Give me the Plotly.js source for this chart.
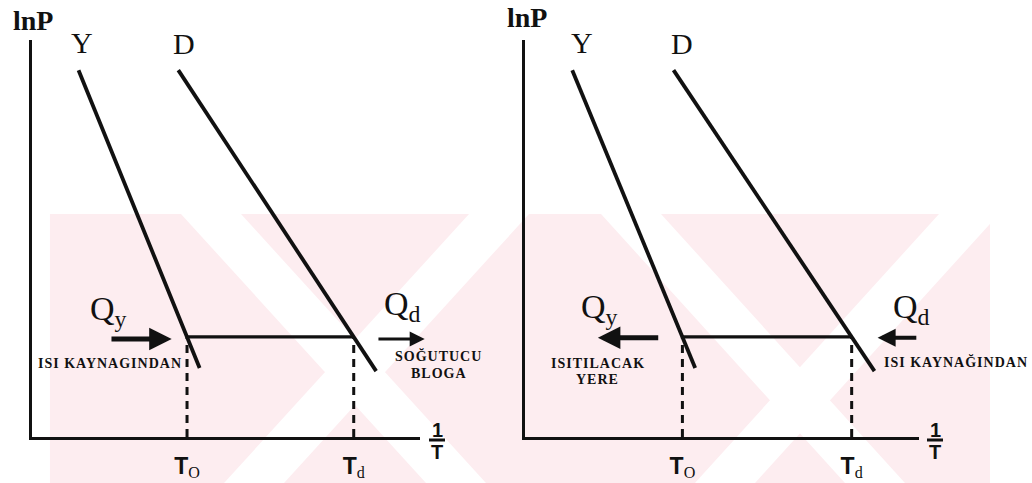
<!DOCTYPE html>
<html>
<head>
<meta charset="utf-8">
<script src="https://cdn.plot.ly/plotly-3.0.1.min.js"></script>
<style>
  html, body { margin: 0; padding: 0; background: #ffffff; }
  #chart { width: 1032px; height: 483px; }
</style>
</head>
<body>
<div id="chart"></div>
<script>
// Vapour-pressure lines of the two fluids in the lnP – 1/T plane (arbitrary units)
const lineY_invT = [1.20, 4.32];
const lineY_lnP  = [9.24, 1.74];
const lineD_invT = [3.77, 8.87];
const lineD_lnP  = [9.24, 1.66];
// common pressure level of the cycle
const processLnP = 2.52;

const curveNames = ['Y', 'D'];
const tickLabels = ['T<sub>O</sub>', 'T<sub>d</sub>'];
const panelTexts = [
  { qLeft: 'Q<sub>y</sub>', qRight: 'Q<sub>d</sub>', left: ['ISI KAYNAGINDAN'], right: ['SOĞUTUCU', 'BLOGA'] },
  { qLeft: 'Q<sub>y</sub>', qRight: 'Q<sub>d</sub>', left: ['ISITILACAK', 'YERE'], right: ['ISI KAYNAĞINDAN'] }
];

// 1/T where a line reaches a given lnP
function invTAt(xs, ys, y) {
  return xs[0] + (ys[0] - y) / (ys[0] - ys[1]) * (xs[1] - xs[0]);
}
const T_O = invTAt(lineY_invT, lineY_lnP, processLnP);
const T_d = invTAt(lineD_invT, lineD_lnP, processLnP);

const W = 1032, H = 483;
const INK = '#111111';
const SERIF = 'Liberation Serif, Times New Roman, serif';
const SANS = 'Liberation Sans, Arial, sans-serif';

function fmtTick(t) {
  return t.replace(/^T<sub>(.*)<\/sub>$/, '<b>T</b><sub><span style="font-family:Liberation Serif;font-weight:normal">$1</span></sub>');
}

function panelTraces(xa, ya) {
  const base = { xaxis: xa, yaxis: ya, mode: 'lines', hoverinfo: 'skip', showlegend: false };
  return [
    Object.assign({}, base, { x: lineY_invT, y: lineY_lnP, line: { color: INK, width: 3.8 } }),
    Object.assign({}, base, { x: lineD_invT, y: lineD_lnP, line: { color: INK, width: 3.8 } }),
    Object.assign({}, base, { x: [T_O, T_d], y: [processLnP, processLnP], line: { color: INK, width: 3.2 } }),
    Object.assign({}, base, { x: [T_O, T_O], y: [0, processLnP], line: { color: INK, width: 3, dash: '8px,6px' } }),
    Object.assign({}, base, { x: [T_d, T_d], y: [0, processLnP], line: { color: INK, width: 3, dash: '8px,6px' } })
  ];
}

const data = [].concat(panelTraces('x', 'y'), panelTraces('x2', 'y2'));

function axisX(domain, anchor) {
  return {
    domain: domain, anchor: anchor, range: [0, 10],
    showline: true, linecolor: INK, linewidth: 3, mirror: false,
    showgrid: false, zeroline: false, ticks: '',
    tickmode: 'array', tickvals: [T_O, T_d], ticktext: tickLabels.map(fmtTick),
    tickfont: { family: SANS, size: 23, color: INK },
    ticklabelstandoff: 6, fixedrange: true
  };
}
function axisY(anchor) {
  return {
    domain: [0.0952, 0.9172], anchor: anchor, range: [0, 10],
    showline: true, linecolor: INK, linewidth: 3,
    showgrid: false, zeroline: false, ticks: '', showticklabels: false, fixedrange: true
  };
}

const annotations = [];
const shapes = [];

function txt(xr, yr, x, y, text, font, extra) {
  annotations.push(Object.assign({
    xref: xr, yref: yr, x: x, y: y, text: text, showarrow: false,
    xanchor: 'center', yanchor: 'middle', font: font
  }, extra || {}));
}
// text placed on the page, in pixels from the top-left corner
function ptxt(px, py, text, font, extra) {
  txt('paper', 'paper', px / W, 1 - py / H, text, font, extra);
}
function arrow(xr, yr, xHead, xTail, y, w, size) {
  annotations.push({
    xref: xr, yref: yr, axref: xr, ayref: yr, x: xHead, y: y, ax: xTail, ay: y,
    text: '', showarrow: true, arrowhead: 2, arrowsize: size, arrowwidth: w, arrowcolor: INK
  });
}
const small = { family: SERIF, size: 14, color: INK };
function spaced(s) { return '<b><span style="letter-spacing:1px">' + s + '</span></b>'; }
const bigSerif = { family: SERIF, size: 30, color: INK };
const qFont = { family: SERIF, size: 34, color: INK };
const lnPFont = { family: SERIF, size: 28, color: INK };

// left panel: refrigeration
ptxt(33, 20, '<b>lnP</b>', lnPFont);
txt('x', 'y', 1.29, 9.94, curveNames[0], bigSerif);
txt('x', 'y', 3.92, 9.92, curveNames[1], bigSerif);
txt('x', 'y', 1.98, 3.18, panelTexts[0].qLeft, qFont);
txt('x', 'y', 9.55, 3.30, panelTexts[0].qRight, qFont);
arrow('x', 'y', 3.60, 2.01, 2.47, 5, 0.9);
arrow('x', 'y', 10.12, 8.89, 2.47, 3, 1.0);
txt('x', 'y', 2.00, 1.86, spaced(panelTexts[0].left[0]), small);
ptxt(438, 356, spaced(panelTexts[0].right[0]), small);
ptxt(439, 373, spaced(panelTexts[0].right[1]), small);

// right panel: heat pump
ptxt(527, 18, '<b>lnP</b>', lnPFont);
txt('x2', 'y2', 1.45, 9.94, curveNames[0], bigSerif);
txt('x2', 'y2', 3.98, 9.92, curveNames[1], bigSerif);
txt('x2', 'y2', 1.90, 3.22, panelTexts[1].qLeft, qFont);
txt('x2', 'y2', 9.80, 3.22, panelTexts[1].qRight, qFont);
arrow('x2', 'y2', 1.85, 3.42, 2.50, 5, 0.9);
arrow('x2', 'y2', 8.95, 9.97, 2.50, 4, 0.9);
txt('x2', 'y2', 1.85, 1.86, spaced(panelTexts[1].left[0]), small);
txt('x2', 'y2', 1.85, 1.44, spaced(panelTexts[1].left[1]), small);
txt('x2', 'y2', 9.06, 1.89, spaced(panelTexts[1].right[0]), small, { xanchor: 'left' });

// "1/T" axis captions
[437, 935].forEach(function (cx) {
  ptxt(cx, 430, '<b>1</b>', { family: SANS, size: 20, color: INK });
  ptxt(cx, 452, '<b>T</b>', { family: SANS, size: 20, color: INK });
  shapes.push({ type: 'line', xref: 'paper', yref: 'paper',
    x0: (cx - 8) / W, x1: (cx + 8) / W, y0: 1 - 440 / H, y1: 1 - 440 / H,
    line: { color: INK, width: 3 } });
});

// pale background emblem
const P = function (px, py) { return (px / W).toFixed(4) + ',' + (1 - py / H).toFixed(4); };
function poly(pts, color) {
  shapes.push({ type: 'path', xref: 'paper', yref: 'paper', layer: 'below', line: { width: 0 },
    fillcolor: color, path: 'M' + pts.map(function (p) { return P(p[0], p[1]); }).join('L') + 'Z' });
}
const PINK = '#fdedf0';
poly([[50, 214], [990, 214], [990, 483], [50, 483]], PINK);
poly([[181, 214], [241, 214], [486, 483], [426, 483]], '#ffffff');
poly([[469, 214], [529, 214], [284, 483], [224, 483]], '#ffffff');
poly([[601, 214], [661, 214], [905, 483], [845, 483]], '#ffffff');
poly([[939, 214], [999, 214], [755, 483], [695, 483]], '#ffffff');

const layout = {
  width: W, height: H,
  margin: { l: 0, r: 0, t: 0, b: 0 },
  paper_bgcolor: '#ffffff', plot_bgcolor: 'rgba(0,0,0,0)',
  showlegend: false,
  xaxis: axisX([0.031, 0.407], 'y'),
  yaxis: axisY('x'),
  xaxis2: axisX([0.5087, 0.8905], 'y2'),
  yaxis2: axisY('x2'),
  annotations: annotations,
  shapes: shapes
};

Plotly.newPlot('chart', data, layout, { displayModeBar: false, staticPlot: true });
</script>
</body>
</html>
